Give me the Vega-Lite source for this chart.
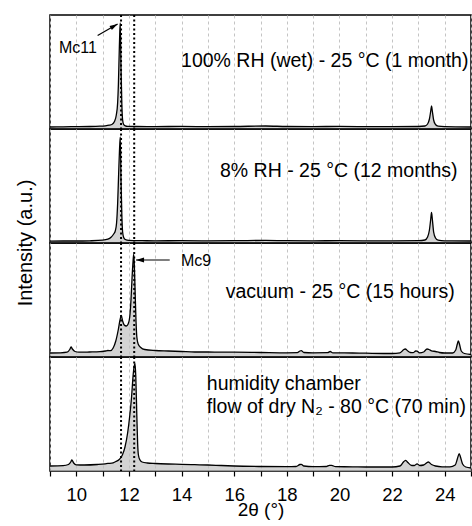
{
  "$schema": "https://vega.github.io/schema/vega-lite/v6.json",
  "padding": {"left": 15, "top": 13, "right": 0, "bottom": 0},
  "background": "white",
  "bounds": "flush",
  "data": {"values": [
    {"p":"a","k":"s","x":9,"y":2},{"p":"a","k":"s","x":9.5,"y":2.2},{"p":"a","k":"s","x":10,"y":2.4},{"p":"a","k":"s","x":10.5,"y":2.5},{"p":"a","k":"s","x":10.9,"y":2.8},{"p":"a","k":"s","x":11.1,"y":3.2},{"p":"a","k":"s","x":11.25,"y":3.8},{"p":"a","k":"s","x":11.35,"y":4.5},{"p":"a","k":"s","x":11.45,"y":7.5},{"p":"a","k":"s","x":11.52,"y":14},{"p":"a","k":"s","x":11.57,"y":26},{"p":"a","k":"s","x":11.6,"y":45},{"p":"a","k":"s","x":11.63,"y":76},{"p":"a","k":"s","x":11.65,"y":95},{"p":"a","k":"s","x":11.67,"y":106},{"p":"a","k":"s","x":11.7,"y":60},{"p":"a","k":"s","x":11.73,"y":25},{"p":"a","k":"s","x":11.76,"y":9},{"p":"a","k":"s","x":11.8,"y":4.5},{"p":"a","k":"s","x":11.86,"y":3.2},{"p":"a","k":"s","x":11.95,"y":2.7},{"p":"a","k":"s","x":12.3,"y":2.5},{"p":"a","k":"s","x":13,"y":2.4},{"p":"a","k":"s","x":14,"y":2.6},{"p":"a","k":"s","x":15,"y":2.4},{"p":"a","k":"s","x":16,"y":2.5},{"p":"a","k":"s","x":17.2,"y":3},{"p":"a","k":"s","x":18,"y":2.5},{"p":"a","k":"s","x":19,"y":2.4},{"p":"a","k":"s","x":20,"y":2.6},{"p":"a","k":"s","x":21,"y":2.4},{"p":"a","k":"s","x":22,"y":2.3},{"p":"a","k":"s","x":23,"y":2.5},{"p":"a","k":"s","x":23.25,"y":3},{"p":"a","k":"s","x":23.35,"y":5},{"p":"a","k":"s","x":23.42,"y":10},{"p":"a","k":"s","x":23.47,"y":18},{"p":"a","k":"s","x":23.5,"y":23},{"p":"a","k":"s","x":23.53,"y":18},{"p":"a","k":"s","x":23.58,"y":9},{"p":"a","k":"s","x":23.65,"y":4.5},{"p":"a","k":"s","x":23.75,"y":2.8},{"p":"a","k":"s","x":24,"y":2.3},{"p":"a","k":"s","x":25,"y":2},

    {"p":"b","k":"s","x":9,"y":1.8},{"p":"b","k":"s","x":9.5,"y":2},{"p":"b","k":"s","x":10,"y":2},{"p":"b","k":"s","x":10.5,"y":2.2},{"p":"b","k":"s","x":11,"y":2.8},{"p":"b","k":"s","x":11.2,"y":3.8},{"p":"b","k":"s","x":11.32,"y":5.7},{"p":"b","k":"s","x":11.42,"y":9},{"p":"b","k":"s","x":11.48,"y":12},{"p":"b","k":"s","x":11.53,"y":20},{"p":"b","k":"s","x":11.57,"y":39},{"p":"b","k":"s","x":11.61,"y":70},{"p":"b","k":"s","x":11.64,"y":92},{"p":"b","k":"s","x":11.67,"y":106},{"p":"b","k":"s","x":11.7,"y":62},{"p":"b","k":"s","x":11.73,"y":28},{"p":"b","k":"s","x":11.76,"y":11},{"p":"b","k":"s","x":11.8,"y":5.5},{"p":"b","k":"s","x":11.86,"y":3.5},{"p":"b","k":"s","x":12,"y":2.6},{"p":"b","k":"s","x":12.5,"y":2.3},{"p":"b","k":"s","x":13,"y":2.2},{"p":"b","k":"s","x":14,"y":2.3},{"p":"b","k":"s","x":15,"y":2.2},{"p":"b","k":"s","x":16,"y":2.3},{"p":"b","k":"s","x":17.2,"y":2.6},{"p":"b","k":"s","x":18,"y":2.3},{"p":"b","k":"s","x":19,"y":2.2},{"p":"b","k":"s","x":20,"y":2.3},{"p":"b","k":"s","x":21,"y":2.2},{"p":"b","k":"s","x":22,"y":2.1},{"p":"b","k":"s","x":23,"y":2.3},{"p":"b","k":"s","x":23.25,"y":3},{"p":"b","k":"s","x":23.35,"y":6},{"p":"b","k":"s","x":23.42,"y":13},{"p":"b","k":"s","x":23.47,"y":24},{"p":"b","k":"s","x":23.5,"y":30.5},{"p":"b","k":"s","x":23.53,"y":24},{"p":"b","k":"s","x":23.58,"y":11},{"p":"b","k":"s","x":23.65,"y":5},{"p":"b","k":"s","x":23.75,"y":2.8},{"p":"b","k":"s","x":24,"y":2.2},{"p":"b","k":"s","x":25,"y":2},

    {"p":"c","k":"s","x":9,"y":4},{"p":"c","k":"s","x":9.4,"y":4.2},{"p":"c","k":"s","x":9.65,"y":4.8},{"p":"c","k":"s","x":9.75,"y":7.5},{"p":"c","k":"s","x":9.8,"y":10},{"p":"c","k":"s","x":9.85,"y":8},{"p":"c","k":"s","x":9.95,"y":5.5},{"p":"c","k":"s","x":10.1,"y":4.8},{"p":"c","k":"s","x":10.5,"y":5},{"p":"c","k":"s","x":10.9,"y":5.3},{"p":"c","k":"s","x":11.1,"y":6},{"p":"c","k":"s","x":11.2,"y":6.5},{"p":"c","k":"s","x":11.3,"y":6.3},{"p":"c","k":"s","x":11.4,"y":9},{"p":"c","k":"s","x":11.5,"y":16},{"p":"c","k":"s","x":11.6,"y":28},{"p":"c","k":"s","x":11.66,"y":37},{"p":"c","k":"s","x":11.71,"y":41.5},{"p":"c","k":"s","x":11.76,"y":36},{"p":"c","k":"s","x":11.82,"y":32},{"p":"c","k":"s","x":11.9,"y":31},{"p":"c","k":"s","x":11.97,"y":33},{"p":"c","k":"s","x":12.03,"y":40},{"p":"c","k":"s","x":12.08,"y":58},{"p":"c","k":"s","x":12.12,"y":80},{"p":"c","k":"s","x":12.16,"y":97},{"p":"c","k":"s","x":12.18,"y":102.5},{"p":"c","k":"s","x":12.2,"y":95},{"p":"c","k":"s","x":12.23,"y":70},{"p":"c","k":"s","x":12.27,"y":35},{"p":"c","k":"s","x":12.3,"y":20},{"p":"c","k":"s","x":12.35,"y":13},{"p":"c","k":"s","x":12.45,"y":9.5},{"p":"c","k":"s","x":12.6,"y":7.5},{"p":"c","k":"s","x":13,"y":6.5},{"p":"c","k":"s","x":13.5,"y":6},{"p":"c","k":"s","x":14,"y":5.5},{"p":"c","k":"s","x":14.5,"y":5},{"p":"c","k":"s","x":15,"y":5},{"p":"c","k":"s","x":15.5,"y":4.8},{"p":"c","k":"s","x":16,"y":4.8},{"p":"c","k":"s","x":17,"y":4.5},{"p":"c","k":"s","x":18,"y":4.2},{"p":"c","k":"s","x":18.4,"y":4.3},{"p":"c","k":"s","x":18.5,"y":6},{"p":"c","k":"s","x":18.55,"y":6.3},{"p":"c","k":"s","x":18.65,"y":4.5},{"p":"c","k":"s","x":19,"y":4.2},{"p":"c","k":"s","x":19.55,"y":4.3},{"p":"c","k":"s","x":19.65,"y":5.5},{"p":"c","k":"s","x":19.75,"y":4.2},{"p":"c","k":"s","x":20.5,"y":4},{"p":"c","k":"s","x":21,"y":3.8},{"p":"c","k":"s","x":22,"y":3.5},{"p":"c","k":"s","x":22.3,"y":4.2},{"p":"c","k":"s","x":22.45,"y":7.5},{"p":"c","k":"s","x":22.5,"y":8},{"p":"c","k":"s","x":22.6,"y":6},{"p":"c","k":"s","x":22.7,"y":4.5},{"p":"c","k":"s","x":22.8,"y":4.3},{"p":"c","k":"s","x":22.9,"y":6},{"p":"c","k":"s","x":22.95,"y":5.8},{"p":"c","k":"s","x":23.05,"y":4.2},{"p":"c","k":"s","x":23.2,"y":5},{"p":"c","k":"s","x":23.33,"y":8},{"p":"c","k":"s","x":23.4,"y":7.5},{"p":"c","k":"s","x":23.5,"y":6.2},{"p":"c","k":"s","x":23.65,"y":5.5},{"p":"c","k":"s","x":23.8,"y":4.5},{"p":"c","k":"s","x":24,"y":4},{"p":"c","k":"s","x":24.3,"y":4},{"p":"c","k":"s","x":24.42,"y":7},{"p":"c","k":"s","x":24.48,"y":13},{"p":"c","k":"s","x":24.52,"y":16},{"p":"c","k":"s","x":24.57,"y":12},{"p":"c","k":"s","x":24.63,"y":6},{"p":"c","k":"s","x":24.75,"y":3.5},{"p":"c","k":"s","x":25,"y":2.5},

    {"p":"d","k":"s","x":9,"y":5},{"p":"d","k":"s","x":9.5,"y":5.3},{"p":"d","k":"s","x":9.7,"y":6.5},{"p":"d","k":"s","x":9.8,"y":9.5},{"p":"d","k":"s","x":9.83,"y":11},{"p":"d","k":"s","x":9.9,"y":8},{"p":"d","k":"s","x":10,"y":6.2},{"p":"d","k":"s","x":10.3,"y":6},{"p":"d","k":"s","x":10.8,"y":6.5},{"p":"d","k":"s","x":11.1,"y":7.2},{"p":"d","k":"s","x":11.2,"y":7.6},{"p":"d","k":"s","x":11.35,"y":7.8},{"p":"d","k":"s","x":11.5,"y":9.5},{"p":"d","k":"s","x":11.63,"y":11.5},{"p":"d","k":"s","x":11.75,"y":16},{"p":"d","k":"s","x":11.85,"y":24},{"p":"d","k":"s","x":11.95,"y":38},{"p":"d","k":"s","x":12.03,"y":55},{"p":"d","k":"s","x":12.1,"y":74},{"p":"d","k":"s","x":12.16,"y":96},{"p":"d","k":"s","x":12.2,"y":105},{"p":"d","k":"s","x":12.23,"y":107.5},{"p":"d","k":"s","x":12.26,"y":95},{"p":"d","k":"s","x":12.3,"y":55},{"p":"d","k":"s","x":12.33,"y":28},{"p":"d","k":"s","x":12.36,"y":16},{"p":"d","k":"s","x":12.42,"y":11},{"p":"d","k":"s","x":12.5,"y":9},{"p":"d","k":"s","x":12.7,"y":8},{"p":"d","k":"s","x":13,"y":7.5},{"p":"d","k":"s","x":13.5,"y":7},{"p":"d","k":"s","x":14,"y":6.7},{"p":"d","k":"s","x":14.5,"y":6.3},{"p":"d","k":"s","x":15,"y":6},{"p":"d","k":"s","x":15.5,"y":5.5},{"p":"d","k":"s","x":16,"y":5},{"p":"d","k":"s","x":17,"y":4.5},{"p":"d","k":"s","x":18,"y":4.3},{"p":"d","k":"s","x":18.35,"y":4.5},{"p":"d","k":"s","x":18.5,"y":6.5},{"p":"d","k":"s","x":18.55,"y":6.7},{"p":"d","k":"s","x":18.65,"y":5},{"p":"d","k":"s","x":19,"y":4.3},{"p":"d","k":"s","x":19.5,"y":4.5},{"p":"d","k":"s","x":19.62,"y":5.7},{"p":"d","k":"s","x":19.7,"y":5.7},{"p":"d","k":"s","x":19.85,"y":4.3},{"p":"d","k":"s","x":20.5,"y":4.2},{"p":"d","k":"s","x":21,"y":4},{"p":"d","k":"s","x":22,"y":4},{"p":"d","k":"s","x":22.3,"y":5},{"p":"d","k":"s","x":22.45,"y":9.5},{"p":"d","k":"s","x":22.52,"y":10.7},{"p":"d","k":"s","x":22.6,"y":8.5},{"p":"d","k":"s","x":22.75,"y":5.5},{"p":"d","k":"s","x":22.85,"y":5.5},{"p":"d","k":"s","x":22.95,"y":7.2},{"p":"d","k":"s","x":23.05,"y":5.5},{"p":"d","k":"s","x":23.2,"y":6},{"p":"d","k":"s","x":23.38,"y":9},{"p":"d","k":"s","x":23.5,"y":6.5},{"p":"d","k":"s","x":23.65,"y":5},{"p":"d","k":"s","x":23.9,"y":4.2},{"p":"d","k":"s","x":24.2,"y":4.2},{"p":"d","k":"s","x":24.4,"y":6},{"p":"d","k":"s","x":24.48,"y":12},{"p":"d","k":"s","x":24.55,"y":17.3},{"p":"d","k":"s","x":24.6,"y":14},{"p":"d","k":"s","x":24.68,"y":7},{"p":"d","k":"s","x":24.8,"y":4},{"p":"d","k":"s","x":25,"y":3},

    {"p":"a","k":"r","x":11.7},{"p":"a","k":"r","x":12.2},
    {"p":"b","k":"r","x":11.7},{"p":"b","k":"r","x":12.2},
    {"p":"c","k":"r","x":11.7},{"p":"c","k":"r","x":12.2},
    {"p":"d","k":"r","x":11.7},{"p":"d","k":"r","x":12.2},

    {"p":"a","k":"t","x":13.98,"y":68,"t":"100% RH (wet) - 25 °C (1 month)"},
    {"p":"b","k":"t","x":15.46,"y":72,"t":"8% RH - 25 °C (12 months)"},
    {"p":"c","k":"t","x":15.68,"y":65,"t":"vacuum - 25 °C (15 hours)"},
    {"p":"d","k":"t","x":14.96,"y":87,"t":"humidity chamber"},
    {"p":"d","k":"t","x":14.96,"y":64,"t":"flow of dry N₂ - 80 °C (70 min)"},
    {"p":"a","k":"m","x":9.34,"y":81,"t":"Mc11"},
    {"p":"c","k":"m","x":13.98,"y":96,"t":"Mc9"},
    {"p":"a","k":"a1","x":11.57,"y":105,"x2":10.81,"y2":93.5},
    {"p":"c","k":"a2","x":12.27,"y":97,"x2":13.55,"y2":97}
  ]},
  "facet": {
    "row": {
      "field": "p", "type": "nominal", "sort": ["a","b","c","d"],
      "title": "Intensity (a.u.)",
      "header": {"labels": false, "titleFontSize": 20, "titleFont": "Liberation Sans", "titleFontWeight": "normal", "titleColor": "black", "titlePadding": 4, "titleOrient": "left"}
    }
  },
  "spacing": 0,
  "spec": {
    "width": 421,
    "height": 114,
    "encoding": {
      "x": {
        "field": "x", "type": "quantitative",
        "scale": {"domain": [9, 25], "nice": false, "zero": false},
        "axis": {
          "title": "2θ (°)",
          "values": [9,10,11,12,13,14,15,16,17,18,19,20,21,22,23,24,25],
          "labelExpr": "datum.value % 2 === 0 ? datum.label : ''",
          "grid": true, "gridDash": [3,3], "gridColor": "#c4c4c4", "gridWidth": 1,
          "domain": false,
          "tickColor": "black", "tickSize": 5, "tickWidth": 1.2,
          "labelFont": "Liberation Sans", "labelFontSize": 18.5, "labelColor": "black", "labelPadding": 9, "labelFlush": false,
          "titleFont": "Liberation Sans", "titleFontSize": 19, "titleFontWeight": "normal", "titleColor": "black", "titlePadding": -3
        }
      }
    },
    "layer": [
      {
        "transform": [{"filter": "datum.k === 's'"}],
        "mark": {"type": "area", "color": "#c0c0c0", "interpolate": "monotone", "line": {"color": "black", "strokeWidth": 1.3}},
        "encoding": {
          "y": {"field": "y", "type": "quantitative", "scale": {"domain": [0, 114], "nice": false},
            "axis": {"title": null, "labels": false, "domain": false, "grid": false, "ticks": true, "tickSize": -3, "tickColor": "black", "values": [14,28,42,56,70,84,98,112]}}
        }
      },
      {
        "transform": [{"filter": "datum.k === 'r'"}],
        "mark": {"type": "rule", "color": "black", "strokeWidth": 2, "strokeDash": [2, 2.5]},
        "encoding": {}
      },
      {
        "transform": [{"filter": "datum.k === 't'"}],
        "mark": {"type": "text", "align": "left", "baseline": "middle", "font": "Liberation Sans", "fontSize": 19.5, "color": "black"},
        "encoding": {
          "y": {"field": "y", "type": "quantitative", "scale": {"domain": [0, 114], "nice": false}, "axis": null},
          "text": {"field": "t"}
        }
      },
      {
        "transform": [{"filter": "datum.k === 'm'"}],
        "mark": {"type": "text", "align": "left", "baseline": "middle", "font": "Liberation Sans", "fontSize": 16, "color": "black"},
        "encoding": {
          "y": {"field": "y", "type": "quantitative", "scale": {"domain": [0, 114], "nice": false}, "axis": null},
          "text": {"field": "t"}
        }
      },
      {
        "transform": [{"filter": "datum.k === 'a1' || datum.k === 'a2'"}],
        "mark": {"type": "rule", "color": "black", "strokeWidth": 1.2},
        "encoding": {
          "y": {"field": "y", "type": "quantitative", "scale": {"domain": [0, 114], "nice": false}, "axis": null},
          "x2": {"field": "x2"},
          "y2": {"field": "y2"}
        }
      },
      {
        "transform": [{"filter": "datum.k === 'a1'"}],
        "mark": {"type": "point", "shape": "M0,0 L-2,-0.6 L-2,0.6 Z", "filled": true, "color": "black", "opacity": 1, "size": 64, "angle": -30},
        "encoding": {
          "y": {"field": "y", "type": "quantitative", "scale": {"domain": [0, 114], "nice": false}, "axis": null}
        }
      },
      {
        "transform": [{"filter": "datum.k === 'a2'"}],
        "mark": {"type": "point", "shape": "M0,0 L-2,-0.6 L-2,0.6 Z", "filled": true, "color": "black", "opacity": 1, "size": 64, "angle": 180},
        "encoding": {
          "y": {"field": "y", "type": "quantitative", "scale": {"domain": [0, 114], "nice": false}, "axis": null}
        }
      }
    ]
  },
  "config": {
    "view": {"stroke": "black", "strokeWidth": 1.5},
    "font": "Liberation Sans"
  }
}
